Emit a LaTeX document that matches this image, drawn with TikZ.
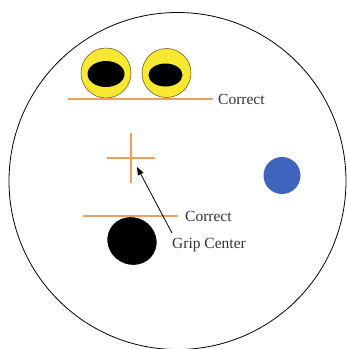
\documentclass[tikz,border=0pt]{standalone}
\usepackage{fontspec}
\setmainfont{Liberation Serif}
\usetikzlibrary{arrows.meta}
\definecolor{orangeline}{RGB}{236,160,96}
\definecolor{eyeyellow}{RGB}{248,232,50}
\definecolor{eyeedge}{RGB}{110,100,40}
\definecolor{bluedot}{RGB}{62,100,190}
\tikzset{
  guide/.style={draw=orangeline, line width=1.1pt},
  lbl/.style={anchor=west, inner sep=0pt, font=\fontsize{15.5}{18}\selectfont, text=black!80},
  eye/.style={draw=eyeedge, fill=eyeyellow, line width=0.6pt},
}
\begin{document}
\begin{tikzpicture}[x=1pt,y=-1pt]
\useasboundingbox (0,0) rectangle (347,349);
\fill[white] (0,0) rectangle (347,349);
% outer circle
\draw[line width=0.8pt] (177.5,181) circle (168.5);
% eyes
\draw[eye] (106,73) circle (25);
\fill[black] (106,74) ellipse (18.5 and 13);
\draw[eye] (166.5,73) circle (24.5);
\fill[black] (165.5,75) ellipse (17 and 11.5);
% top guide
\coordinate (g1a) at (68,99);
\coordinate (g1b) at (213,99);
\draw[guide] (g1a) -- (g1b);
\node[lbl] (c1) at (218,99) {Correct};
% cross
\coordinate (hl) at (107,158);
\coordinate (hr) at (155,158);
\coordinate (vt) at (131,133);
\coordinate (vb) at (131,183);
\draw[guide] (hl) -- (hr);
\draw[guide] (vt) -- (vb);
% blue dot
\fill[bluedot] (282,175.5) circle (18.5);
% lower guide
\coordinate (g2a) at (83,216);
\coordinate (g2b) at (178,216);
\draw[guide] (g2a) -- (g2b);
\node[lbl] (c2) at (185,216) {Correct};
% black blob
\fill[black, rotate around={-30:(132,241)}] (132,241) ellipse (25 and 23.5);
% grip center
\node[lbl] (gc) at (172,245.5) {Grip Center};
\coordinate (tail) at (172,233);
\coordinate (tip) at (137,167);
\draw[line width=0.8pt, -{Triangle[length=8pt,width=6pt]}] (tail) -- (tip);
\end{tikzpicture}
\end{document}
